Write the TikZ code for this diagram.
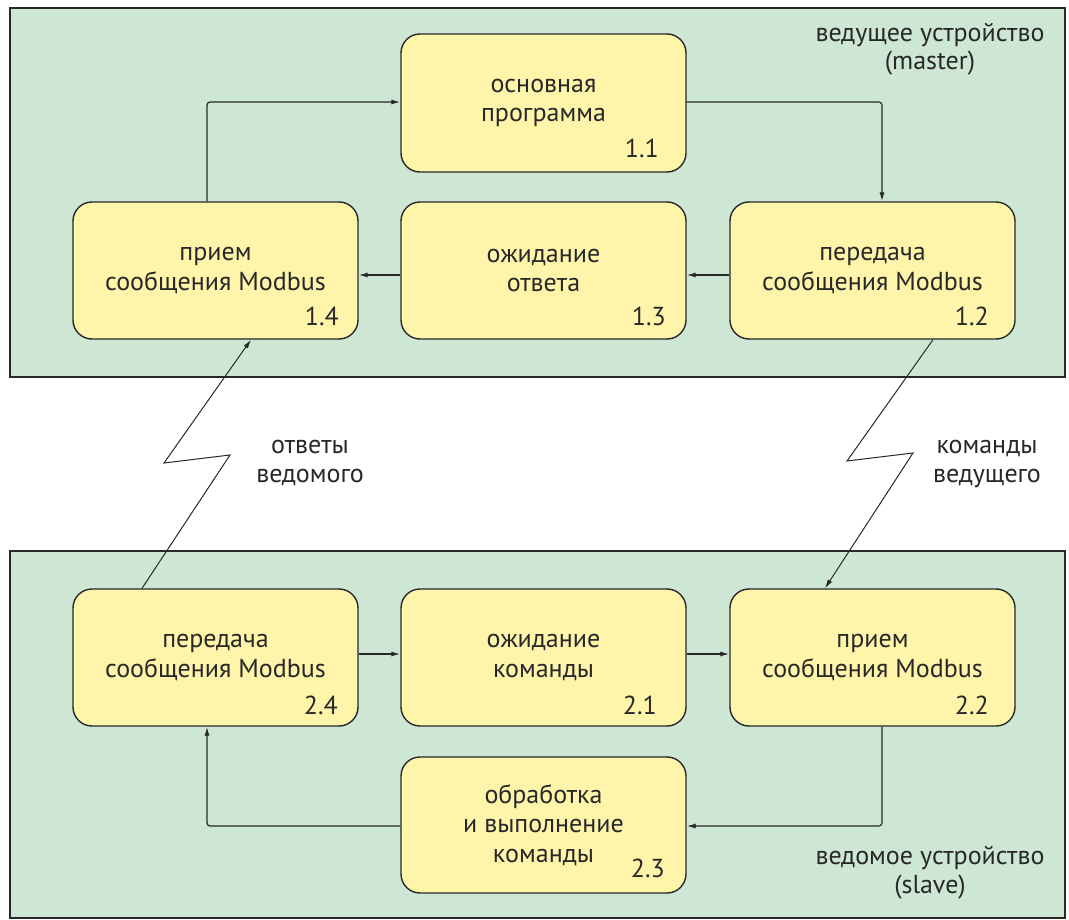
\documentclass[tikz,border=0pt]{standalone}
\usepackage{fontspec}
\setmainfont{PT Sans}
\usetikzlibrary{arrows.meta}
\definecolor{panelfill}{RGB}{205,231,212}
\definecolor{boxfill}{RGB}{255,245,170}
\definecolor{inkc}{RGB}{40,40,40}
\tikzset{
  panel/.style={draw=inkc, line width=2.6pt, fill=panelfill},
  box/.style={draw=inkc, line width=1.4pt, fill=boxfill, rounded corners=19pt,
    minimum width=285pt, minimum height=137pt, inner sep=0pt, align=center,
    text=inkc, font=\fontsize{26}{29.5}\selectfont},
  num/.style={anchor=base east, text=inkc, inner sep=0pt, font=\fontsize{26}{29}\selectfont},
  lbl/.style={align=center, text=inkc, inner sep=0pt, font=\fontsize{26}{28.5}\selectfont},
  arr/.style={draw=inkc, line width=1.2pt, rounded corners=3pt, -{Latex[length=9pt,width=5pt]}},
  zig/.style={draw=inkc, line width=1pt, -{Latex[length=9pt,width=5pt]}}
}
\begin{document}
\begin{tikzpicture}[x=1pt,y=-1pt]
\useasboundingbox (0,0) rectangle (1069,920);
\fill[white] (0,0) rectangle (1069,920);
% panels
\draw[panel] (10,8) rectangle (1065,377);
\draw[panel] (10,551) rectangle (1065,918);
% top boxes
\node[box, minimum height=138pt] (b11) at (543.5,103) {основная\\программа};
\node[box] (b12) at (872.5,270.5) {передача\\сообщения Modbus};
\node[box] (b13) at (543.5,270.5) {ожидание\\ответа};
\node[box] (b14) at (215.5,270.5) {прием\\сообщения Modbus};
% bottom boxes
\node[box] (b24) at (215.5,657.5) {передача\\сообщения Modbus};
\node[box] (b21) at (543.5,657.5) {ожидание\\команды};
\node[box] (b22) at (872.5,657.5) {прием\\сообщения Modbus};
\node[box, minimum height=136pt] (b23) at (543.5,825) {обработка\\и выполнение\\команды};
% numbers
\node[num] (n11) at (659,158) {1.1};
\node[num] (n12) at (989,325) {1.2};
\node[num] (n13) at (666,325) {1.3};
\node[num] (n14) at (339,325) {1.4};
\node[num] (n24) at (338,714) {2.4};
\node[num] (n21) at (657,714) {2.1};
\node[num] (n22) at (989,714) {2.2};
\node[num] (n23) at (665,877) {2.3};
% panel labels (base = last line)
\node[lbl, anchor=base] (lm) at (930,70) {ведущее устройство\\(master)};
\node[lbl, anchor=base] (ls) at (930,893) {ведомое устройство\\(slave)};
\node[lbl, anchor=base] (la) at (310,482) {ответы\\ведомого};
\node[lbl, anchor=base] (lb) at (987,482) {команды\\ведущего};
% master flow
\draw[arr] ([xshift=-8.5pt]b14.north) |- ([yshift=1pt]b11.west);
\draw[arr] ([yshift=1pt]b11.east) -| ([xshift=9.5pt]b12.north);
\draw[arr] ([yshift=-4.5pt]b12.west) -- ([yshift=-4.5pt]b13.east);
\draw[arr] ([yshift=-4.5pt]b13.west) -- ([yshift=-4.5pt]b14.east);
% slave flow
\draw[arr] ([yshift=3.5pt]b24.east) -- ([yshift=3.5pt]b21.west);
\draw[arr] ([yshift=3.5pt]b21.east) -- ([yshift=3.5pt]b22.west);
\draw[arr] ([xshift=9.5pt]b22.south) |- ([yshift=-1pt]b23.east);
\draw[arr] ([yshift=-1pt]b23.west) -| ([xshift=-8.5pt]b24.south);
% lightning links
\coordinate (za1) at (230,455);
\coordinate (za2) at (164,463);
\coordinate (zb1) at (847,461);
\coordinate (zb2) at (913,453);
\draw[zig] ([xshift=-73.5pt]b24.north) -- (za1) -- (za2) -- ([xshift=35.5pt]b14.south);
\draw[zig] ([xshift=60.5pt]b12.south) -- (zb1) -- (zb2) -- ([xshift=-47.5pt]b22.north);
\end{tikzpicture}
\end{document}
